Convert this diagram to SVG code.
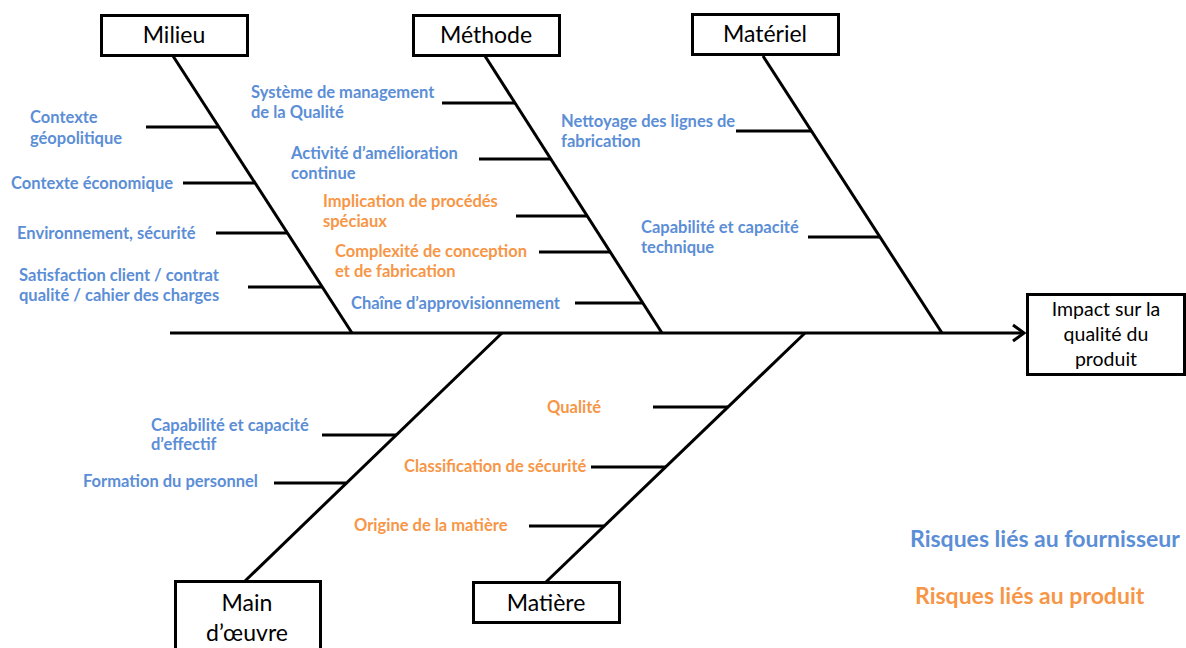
<svg xmlns="http://www.w3.org/2000/svg" width="1186" height="648" viewBox="0 0 1186 648">
<defs>
<style>
.box{fill:#fff;stroke:#000;stroke-width:3}
.ln{stroke:#000;stroke-width:3;fill:none;stroke-linecap:butt}
.bl{font-family:Lato,"Liberation Sans",sans-serif;font-weight:bold;font-size:16.5px;fill:#5B8ED6}
.or{font-family:Lato,"Liberation Sans",sans-serif;font-weight:bold;font-size:16.5px;fill:#F79646}
.bt{font-family:Lato,"Liberation Sans",sans-serif;font-size:23px;fill:#000;text-anchor:middle}
.it{font-family:Lato,"Liberation Sans",sans-serif;font-size:19.5px;fill:#000;text-anchor:middle}
.lg{font-family:Lato,"Liberation Sans",sans-serif;font-weight:bold;font-size:23px}
</style>
</defs>
<rect width="1186" height="648" fill="#fff"/>
<g id="connectors">
<line class="ln" x1="170" y1="333" x2="1024" y2="333"/>
<polyline class="ln" points="1013,325 1024,333 1013,341"/>
<line class="ln" x1="173" y1="56" x2="352" y2="333"/>
<line class="ln" x1="485" y1="56" x2="662" y2="333"/>
<line class="ln" x1="763" y1="56" x2="942" y2="333"/>
<line class="ln" x1="502" y1="333" x2="245" y2="581"/>
<line class="ln" x1="805" y1="333" x2="546" y2="582"/>
<line class="ln" x1="146" y1="127" x2="218" y2="127"/>
<line class="ln" x1="183" y1="183" x2="254" y2="183"/>
<line class="ln" x1="216" y1="233" x2="287" y2="233"/>
<line class="ln" x1="248" y1="287" x2="322" y2="287"/>
<line class="ln" x1="442" y1="103" x2="515" y2="103"/>
<line class="ln" x1="479" y1="159" x2="551" y2="159"/>
<line class="ln" x1="516" y1="216" x2="587" y2="216"/>
<line class="ln" x1="539" y1="252" x2="610" y2="252"/>
<line class="ln" x1="575" y1="303" x2="643" y2="303"/>
<line class="ln" x1="736" y1="131" x2="812" y2="131"/>
<line class="ln" x1="808" y1="237" x2="880" y2="237"/>
<line class="ln" x1="322" y1="435" x2="396" y2="435"/>
<line class="ln" x1="274" y1="483" x2="346" y2="483"/>
<line class="ln" x1="653" y1="407" x2="728" y2="407"/>
<line class="ln" x1="591" y1="467" x2="666" y2="467"/>
<line class="ln" x1="529" y1="526" x2="604" y2="526"/>
</g>
<g id="milieu"><rect class="box" x="101.5" y="15.5" width="146" height="40"/><text class="bt" x="174" y="43">Milieu</text></g>
<g id="methode"><rect class="box" x="413.5" y="15.5" width="146" height="40"/><text class="bt" x="486" y="43">Méthode</text></g>
<g id="materiel"><rect class="box" x="692.5" y="14.5" width="146" height="40"/><text class="bt" x="765" y="42">Matériel</text></g>
<g id="impact"><rect class="box" x="1027.5" y="294.5" width="157" height="80"/><text class="it" x="1106" y="316">Impact sur la</text><text class="it" x="1106" y="341">qualité du</text><text class="it" x="1106" y="366">produit</text></g>
<g id="main-oeuvre"><rect class="box" x="175.5" y="581.5" width="145" height="70"/><text class="bt" x="247" y="611">Main</text><text class="bt" x="247" y="641">d’œuvre</text></g>
<g id="matiere"><rect class="box" x="473.5" y="582.5" width="146" height="40"/><text class="bt" x="546" y="611">Matière</text></g>
<g id="labels">
<text class="bl" x="30" y="123">Contexte</text>
<text class="bl" x="30" y="144">géopolitique</text>
<text class="bl" x="11" y="189">Contexte économique</text>
<text class="bl" x="17" y="239">Environnement, sécurité</text>
<text class="bl" x="19" y="281">Satisfaction client / contrat</text>
<text class="bl" x="19" y="301">qualité / cahier des charges</text>
<text class="bl" x="251" y="98">Système de management</text>
<text class="bl" x="251" y="118">de la Qualité</text>
<text class="bl" x="291" y="159">Activité d’amélioration</text>
<text class="bl" x="291" y="179">continue</text>
<text class="or" x="323" y="207">Implication de procédés</text>
<text class="or" x="323" y="227">spéciaux</text>
<text class="or" x="335" y="257">Complexité de conception</text>
<text class="or" x="335" y="277">et de fabrication</text>
<text class="bl" x="351" y="309">Chaîne d’approvisionnement</text>
<text class="bl" x="561" y="127">Nettoyage des lignes de</text>
<text class="bl" x="561" y="147">fabrication</text>
<text class="bl" x="641" y="233">Capabilité et capacité</text>
<text class="bl" x="641" y="253">technique</text>
<text class="bl" x="151" y="431">Capabilité et capacité</text>
<text class="bl" x="151" y="450">d’effectif</text>
<text class="bl" x="83" y="487">Formation du personnel</text>
<text class="or" x="547" y="413">Qualité</text>
<text class="or" x="404" y="472">Classification de sécurité</text>
<text class="or" x="354" y="531">Origine de la matière</text>
</g>
<g id="legend">
<text class="lg" x="910" y="547" fill="#5B8ED6">Risques liés au fournisseur</text>
<text class="lg" x="915" y="604" fill="#F79646">Risques liés au produit</text>
</g>
</svg>
